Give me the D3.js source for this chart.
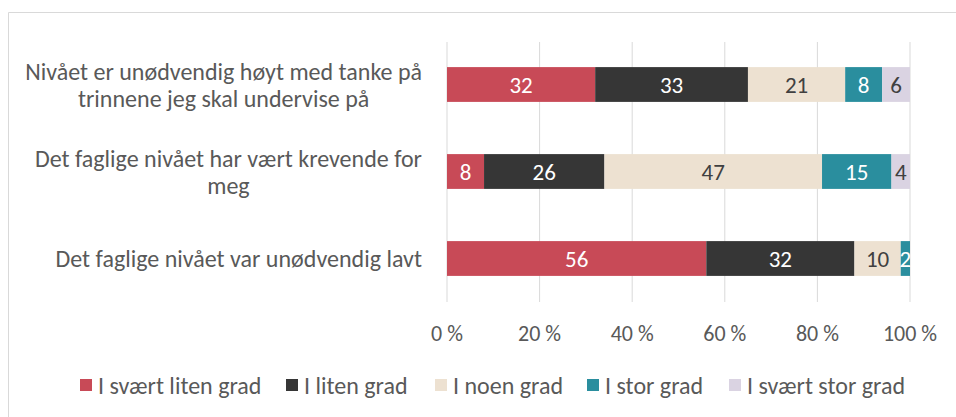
<!DOCTYPE html>
<html lang="no">

<head>
    <meta charset="UTF-8">
    <title>Faglig nivå</title>
    <style>
        body { margin: 0; background: #fff; }
        text { font-family: Carlito, 'Open Sans', sans-serif; }
    </style>
</head>

<body>
    <svg id="svg" width="956" height="417"></svg>

    <script src="https://d3js.org/d3.v7.min.js"></script>
    <script>
        const questions = [
            ['Nivået er unødvendig høyt med tanke på', 'trinnene jeg skal undervise på'],
            ['Det faglige nivået har vært krevende for', 'meg'],
            ['Det faglige nivået var unødvendig lavt']
        ]
        const answers = ['I svært liten grad', 'I liten grad', 'I noen grad', 'I stor grad', 'I svært stor grad']
        const colors = ['#c84a57', '#363636', '#ede1d1', '#2a8e9e', '#dad3e2']
        const labelColors = ['#fff', '#fff', '#404040', '#fff', '#404040']

        const sværtLiten = [32, 8, 56]
        const liten = [33, 26, 32]
        const noen = [21, 47, 10]
        const stor = [8, 15, 2]
        const sværtStor = [6, 4, 0]
        const ticks = [0, 20, 40, 60, 80, 100]

        const series = [sværtLiten, liten, noen, stor, sværtStor]
        const rows = questions.map((q, i) => {
            const r = { i: i }
            answers.forEach((a, j) => r[a] = series[j][i])
            return r
        })
        const stacked = d3.stack().keys(answers)(rows)

        const svg = d3.select('#svg')
        const fs = 23

        // outer frame
        svg.append('path')
            .attr('d', 'M8.5,417 V12.5 H956')
            .attr('fill', 'none')
            .attr('stroke', '#d9d9d9')

        const xScale = d3.scaleLinear().domain([0, 100]).range([447, 910])
        const yScale = d3.scaleBand().domain(d3.range(questions.length)).range([41, 302]).paddingInner(0.6).paddingOuter(0.3)

        // grid
        svg.append('g')
            .selectAll('line')
            .data(ticks)
            .enter()
            .append('line')
            .attr('x1', d => xScale(d))
            .attr('x2', d => xScale(d))
            .attr('y1', 42)
            .attr('y2', 302)
            .attr('stroke', '#d9d9d9')
            .attr('stroke-width', 1)

        svg.append('g')
            .selectAll('text')
            .data(ticks)
            .enter()
            .append('text')
            .attr('x', d => xScale(d))
            .attr('y', 333)
            .attr('text-anchor', 'middle')
            .attr('dominant-baseline', 'central')
            .attr('font-size', 22)
            .attr('fill', '#595959')
            .text(d => d + ' %')

        const groups = svg.append('g')
            .selectAll('g')
            .data(stacked)
            .enter()
            .append('g')

        groups.selectAll('rect')
            .data((s, j) => s.map(d => ({ d: d, j: j })))
            .enter()
            .append('rect')
            .attr('x', o => xScale(o.d[0]))
            .attr('y', o => yScale(o.d.data.i))
            .attr('width', o => xScale(o.d[1]) - xScale(o.d[0]))
            .attr('height', yScale.bandwidth())
            .attr('fill', o => colors[o.j])

        groups.selectAll('text')
            .data((s, j) => s.map(d => ({ d: d, j: j })).filter(o => o.d[1] - o.d[0] > 0))
            .enter()
            .append('text')
            .attr('x', o => (xScale(o.d[0]) + xScale(o.d[1])) / 2)
            .attr('y', o => yScale(o.d.data.i) + yScale.bandwidth() / 2)
            .attr('text-anchor', 'middle')
            .attr('dominant-baseline', 'central')
            .attr('font-size', fs)
            .attr('fill', o => labelColors[o.j])
            .text(o => o.d[1] - o.d[0])

        // category labels: lines centred in a box that is right-aligned at 422
        const cat = svg.append('g')
            .selectAll('text')
            .data(questions)
            .enter()
            .append('text')
            .attr('text-anchor', 'middle')
            .attr('font-size', 24)
            .attr('fill', '#595959')
        cat.selectAll('tspan')
            .data(q => q.map((t, k) => ({ t: t, k: k, n: q.length })))
            .enter()
            .append('tspan')
            .attr('x', 0)
            .attr('y', o => (o.k - (o.n - 1) / 2) * 27)
            .attr('dominant-baseline', 'central')
            .text(o => o.t)
        cat.attr('transform', function (q, i) {
            const w = d3.max(d3.select(this).selectAll('tspan').nodes(), n => n.getComputedTextLength())
            return `translate(${422 - w / 2},${yScale(i) + yScale.bandwidth() / 2})`
        })

        // legend
        const legendX = [80, 286, 435, 587, 729]
        const legend = svg.append('g')
            .selectAll('g')
            .data(answers)
            .enter()
            .append('g')
            .attr('transform', (a, j) => `translate(${legendX[j]},385)`)
        legend.append('rect')
            .attr('x', 0)
            .attr('y', -6)
            .attr('width', 12)
            .attr('height', 12)
            .attr('fill', (a, j) => colors[j])
        legend.append('text')
            .attr('x', 18)
            .attr('y', 0)
            .attr('dominant-baseline', 'central')
            .attr('font-size', 24)
            .attr('fill', '#595959')
            .text(a => a)
    </script>
</body>

</html>
